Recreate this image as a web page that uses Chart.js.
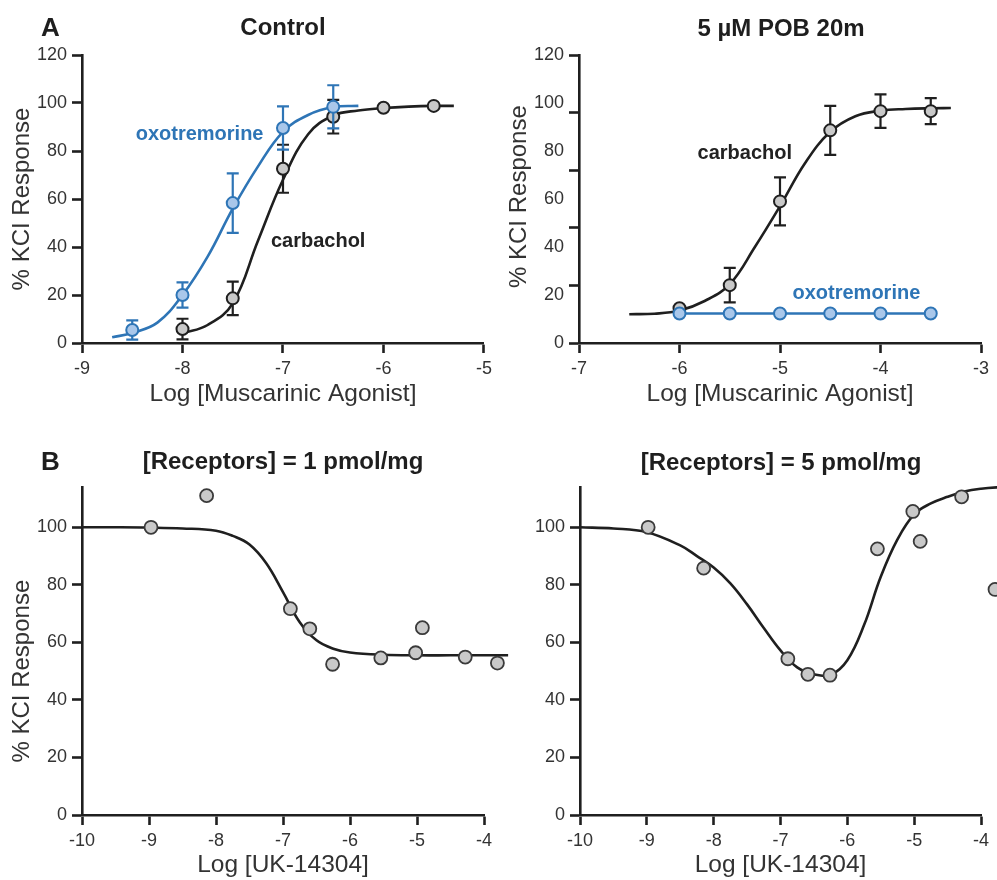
<!DOCTYPE html>
<html>
<head>
<meta charset="utf-8">
<script src="https://cdn.jsdelivr.net/npm/chart.js@4.4.1/dist/chart.umd.min.js"></script>
<style>
  body { margin: 0; background: #fff; }
  #wrap { position: relative; width: 997px; height: 880px; overflow: hidden; font-family: "Liberation Sans", Arial, sans-serif; }
  canvas { position: absolute; }
  .lbl { position: absolute; font-weight: bold; color: #1e1e1e; white-space: nowrap; line-height: 1; }
  .ctr { transform: translateX(-50%); font-size: 24px; }
</style>
</head>
<body>
<div id="wrap">
  <canvas id="cTL" width="497" height="420" style="left:0;top:0"></canvas>
  <canvas id="cTR" width="500" height="420" style="left:497px;top:0"></canvas>
  <canvas id="cBL" width="515" height="460" style="left:0;top:420px"></canvas>
  <canvas id="cBR" width="500" height="460" style="left:497px;top:420px"></canvas>
  <div class="lbl" style="left:41px;top:14px;font-size:26px">A</div>
  <div class="lbl ctr" style="left:283px;top:15px">Control</div>
  <div class="lbl ctr" style="left:781px;top:16px">5 µM POB 20m</div>
  <div class="lbl" style="left:41px;top:448px;font-size:26px">B</div>
  <div class="lbl ctr" style="left:283px;top:449px">[Receptors] = 1 pmol/mg</div>
  <div class="lbl ctr" style="left:781px;top:450px">[Receptors] = 5 pmol/mg</div>
</div>
<script>
const FONT = '"Liberation Sans", Arial, sans-serif';
const AXIS = '#1f1f1f';
const BLUE = '#2e75b6';
const BLUE_FILL = '#a9c7ea';
const GREY_FILL = '#c9c9c9';

// --- A, control ---
const ctlOxoDose = [-8.5, -8, -7.5, -7, -6.5];
const ctlOxoMean = [5.4, 20, 58.3, 89.6, 98.4];
const ctlOxoErr = [4, 5.3, 12.4, 9, 9];
const ctlCarbDose = [-8, -7.5, -7, -6.5, -6, -5.5];
const ctlCarbMean = [5.8, 18.6, 72.6, 94.3, 98, 98.8];
const ctlCarbErr = [4.3, 7, 10, 7, 0, 0];
const ctlOxoFitX = [-8.7, -8.5, -8.25, -8, -7.75, -7.5, -7.25, -7, -6.75, -6.5, -6.25];
const ctlOxoFitY = [2.4, 4.2, 8.5, 20, 36, 56, 73.5, 88, 95, 98.3, 98.8];
const ctlCarbFitX = [-8, -7.75, -7.5, -7.25, -7, -6.75, -6.5, -6.25, -6, -5.75, -5.5, -5.3];
const ctlCarbFitY = [4, 7.5, 16.5, 42.5, 68, 87, 94.8, 96.9, 97.9, 98.5, 98.8, 98.8];
const ctlTicksX = [-9, -8, -7, -6, -5];

// --- A, 5 uM POB ---
const pobDose = [-6, -5.5, -5, -4.5, -4, -3.5];
const pobCarbMean = [14.5, 24.1, 59, 88.6, 96.6, 96.6];
const pobCarbErr = [0, 7.2, 10, 10.2, 7, 5.4];
const pobOxoMean = [12.3, 12.3, 12.3, 12.3, 12.3, 12.3];
const pobCarbFitX = [-6.5, -6.25, -6, -5.75, -5.5, -5.25, -5, -4.75, -4.5, -4.25, -4, -3.75, -3.5, -3.3];
const pobCarbFitY = [12, 12.2, 13.5, 17.5, 24.5, 40, 57, 75, 88, 94.5, 96.8, 97.5, 97.8, 97.9];
const pobTicksX = [-7, -6, -5, -4, -3];
const pobLabelY = [0, 20, 40, 60, 80, 100, 120];
const pobMarkY = [0, 24, 48, 72, 96, 120];

// --- B, UK-14304 ---
const uk1Dose = [-8.97, -8.14, -6.89, -6.6, -6.26, -5.54, -5.02, -4.92, -4.28, -3.8];
const uk1Resp = [100, 111, 71.7, 64.7, 52.4, 54.6, 56.4, 65.1, 54.9, 52.8];
const uk1FitX = [-10, -9.5, -9, -8.5, -8, -7.75, -7.5, -7.25, -7, -6.75, -6.5, -6.25, -6, -5.5, -5, -4.5, -4, -3.64];
const uk1FitY = [100, 100, 99.9, 99.6, 98.8, 97, 94, 87.5, 77.5, 67, 60.7, 57.8, 56.5, 55.7, 55.5, 55.5, 55.5, 55.5];
const uk5Dose = [-8.98, -8.15, -6.89, -6.59, -6.26, -5.55, -5.02, -4.91, -4.29, -3.79];
const uk5Resp = [100, 85.8, 54.3, 48.9, 48.6, 92.5, 105.5, 95.1, 110.6, 78.4];
const uk5FitX = [-10, -9.5, -9, -8.5, -8.25, -8, -7.75, -7.5, -7.25, -7, -6.75, -6.5, -6.25, -6, -5.75, -5.5, -5.25, -5, -4.75, -4.5, -4.25, -4, -3.75, -3.5];
const uk5FitY = [100, 99.6, 98.3, 93.7, 90, 86, 80.5, 73.2, 65, 57.2, 51.3, 48.9, 48.7, 53.8, 66, 82.8, 95.8, 104.5, 108.3, 110.6, 112.4, 113.4, 113.9, 114.1];
const ukTicksX = [-10, -9, -8, -7, -6, -5, -4];
const ukTicksY = [0, 20, 40, 60, 80, 100];
const topTicksY = [0, 20, 40, 60, 80, 100, 120];

Chart.defaults.font.family = FONT;
Chart.defaults.color = '#333';

// error bars, drawn just under each point set
const errorBars = {
    id: 'errorBars',
    beforeDatasetDraw(chart, args) {
        const ds = chart.data.datasets[args.index];
        if (!ds.errors) return;
        const { ctx, scales: { x, y } } = chart;
        ctx.save();
        ctx.strokeStyle = ds.errColor;
        ctx.lineWidth = 2.2;
        ds.data.forEach((p, i) => {
            const e = ds.errors[i];
            if (!e) return;
            const px = x.getPixelForValue(p.x);
            const top = y.getPixelForValue(p.y + e);
            const bot = y.getPixelForValue(p.y - e);
            ctx.beginPath();
            ctx.moveTo(px, top); ctx.lineTo(px, bot);
            ctx.moveTo(px - 6, top); ctx.lineTo(px + 6, top);
            ctx.moveTo(px - 6, bot); ctx.lineTo(px + 6, bot);
            ctx.stroke();
        });
        ctx.restore();
    }
};

// chart.js skips points outside the chart area; the figure shows them past the axis end
const overhang = {
    id: 'overhang',
    afterDatasetDraw(chart, args) {
        const area = chart.chartArea;
        const wide = { left: -1e4, right: 1e4, top: -1e4, bottom: 1e4 };
        args.meta.data.forEach(el => {
            if (el.options && el.options.radius > 0 && el.x > area.right) el.draw(chart.ctx, wide);
        });
    }
};

// in-plot labels and the rotated y title
const notes = {
    id: 'notes',
    afterDatasetsDraw(chart, args, opts) {
        const { ctx, scales: { x, y } } = chart;
        ctx.save();
        ctx.textAlign = 'center';
        ctx.textBaseline = 'middle';
        (opts.items || []).forEach(n => {
            ctx.font = 'bold 20px ' + FONT;
            ctx.fillStyle = n.color;
            ctx.fillText(n.text, x.getPixelForValue(n.x), y.getPixelForValue(n.y));
        });
        if (opts.yTitle) {
            ctx.font = '24px ' + FONT;
            ctx.fillStyle = '#333';
            ctx.translate(22, y.getPixelForValue(opts.yTitleAt));
            ctx.rotate(-Math.PI / 2);
            ctx.fillText(opts.yTitle, 0, 0);
        }
        ctx.restore();
    }
};

// range set after the data limits, so points past the end are still drawn
function xAxis(min, max, ticks, boxHeight, title, titlePad) {
    return {
        type: 'linear', bounds: 'data',
        afterDataLimits: s => { s.min = min; s.max = max; },
        afterBuildTicks: s => { s.ticks = ticks.map(v => ({ value: v })); },
        afterFit: s => { s.height = boxHeight; },
        border: { color: AXIS, width: 2.6 },
        grid: { drawOnChartArea: false, drawTicks: true, tickLength: 10, tickWidth: 2.6, tickColor: AXIS },
        ticks: { color: '#333', font: { size: 18 }, padding: 5, autoSkip: false, maxRotation: 0 },
        title: { display: true, text: title, color: '#333', font: { size: 24.5 }, padding: { top: 0, bottom: titlePad } }
    };
}

function yAxis(max, ticks, labels, marks, boxWidth) {
    return {
        type: 'linear', min: 0, max,
        afterBuildTicks: s => { s.ticks = ticks.map(v => ({ value: v })); },
        afterFit: s => { s.width = boxWidth; },
        border: { color: AXIS, width: 2.6 },
        grid: {
            drawOnChartArea: false, drawTicks: true, tickLength: 10, tickWidth: 2.6,
            tickColor: c => (c.tick && marks.includes(c.tick.value)) ? AXIS : 'rgba(0,0,0,0)'
        },
        ticks: { color: '#333', font: { size: 18 }, padding: 5, autoSkip: false, callback: v => labels.includes(v) ? v : '' }
    };
}

function pts(xs, ys, errs, fill, stroke, r, bw) {
    return {
        data: xs.map((x, i) => ({ x, y: ys[i] })),
        errors: errs, errColor: stroke,
        showLine: false, clip: false,
        pointRadius: r, pointBackgroundColor: fill, pointBorderColor: stroke, pointBorderWidth: bw
    };
}

function fit(xs, ys, color) {
    return {
        data: xs.map((x, i) => ({ x, y: ys[i] })),
        showLine: true, clip: false, pointRadius: 0,
        borderColor: color, borderWidth: 2.6, tension: 0.4
    };
}

function panel(id, datasets, padding, x, y, pluginOpts) {
    return new Chart(document.getElementById(id), {
        type: 'scatter',
        data: { datasets },
        options: {
            responsive: false,
            animation: false,
            events: [],
            layout: { padding },
            plugins: { legend: { display: false }, tooltip: { enabled: false }, notes: pluginOpts },
            scales: { x, y }
        },
        plugins: [errorBars, overhang, notes]
    });
}

panel('cTL', [
    pts(ctlOxoDose, ctlOxoMean, ctlOxoErr, BLUE_FILL, BLUE, 6, 2),
    pts(ctlCarbDose, ctlCarbMean, ctlCarbErr, GREY_FILL, AXIS, 6, 2),
    fit(ctlOxoFitX, ctlOxoFitY, BLUE),
    fit(ctlCarbFitX, ctlCarbFitY, AXIS)
], { left: 0, right: 13, top: 55, bottom: 0 },
    xAxis(-9, -5, ctlTicksX, 77, 'Log [Muscarinic Agonist]', 11),
    yAxis(120, topTicksY, topTicksY, topTicksY, 82),
    {
        items: [
            { text: 'oxotremorine', x: -7.83, y: 86.8, color: BLUE },
            { text: 'carbachol', x: -6.65, y: 42.4, color: '#222' }
        ],
        yTitle: '% KCI Response', yTitleAt: 60
    });

panel('cTR', [
    { ...pts(pobDose, pobOxoMean, null, BLUE_FILL, BLUE, 6, 2), showLine: true, borderColor: BLUE, borderWidth: 2.6 },
    pts(pobDose, pobCarbMean, pobCarbErr, GREY_FILL, AXIS, 6, 2),
    fit(pobCarbFitX, pobCarbFitY, AXIS)
], { left: 0, right: 16, top: 55, bottom: 0 },
    xAxis(-7, -3, pobTicksX, 77, 'Log [Muscarinic Agonist]', 11),
    yAxis(120, [0, 20, 24, 40, 48, 60, 72, 80, 96, 100, 120], pobLabelY, pobMarkY, 82),
    {
        items: [
            { text: 'carbachol', x: -5.35, y: 78.9, color: '#222' },
            { text: 'oxotremorine', x: -4.24, y: 20.8, color: BLUE }
        ],
        yTitle: '% KCI Response', yTitleAt: 61
    });

panel('cBL', [
    pts(uk1Dose, uk1Resp, null, GREY_FILL, '#3a3a3a', 6.5, 1.8),
    fit(uk1FitX, uk1FitY, AXIS)
], { left: 0, right: 31, top: 67, bottom: 0 },
    xAxis(-10, -4, ukTicksX, 65, 'Log [UK-14304]', 0),
    yAxis(114, ukTicksY, ukTicksY, ukTicksY, 82),
    { items: [], yTitle: '% KCI Response', yTitleAt: 50 });

panel('cBR', [
    pts(uk5Dose, uk5Resp, null, GREY_FILL, '#3a3a3a', 6.5, 1.8),
    fit(uk5FitX, uk5FitY, AXIS)
], { left: 0, right: 16, top: 67, bottom: 0 },
    xAxis(-10, -4, ukTicksX, 65, 'Log [UK-14304]', 0),
    yAxis(114, ukTicksY, ukTicksY, ukTicksY, 83),
    { items: [] });
</script>
</body>
</html>
